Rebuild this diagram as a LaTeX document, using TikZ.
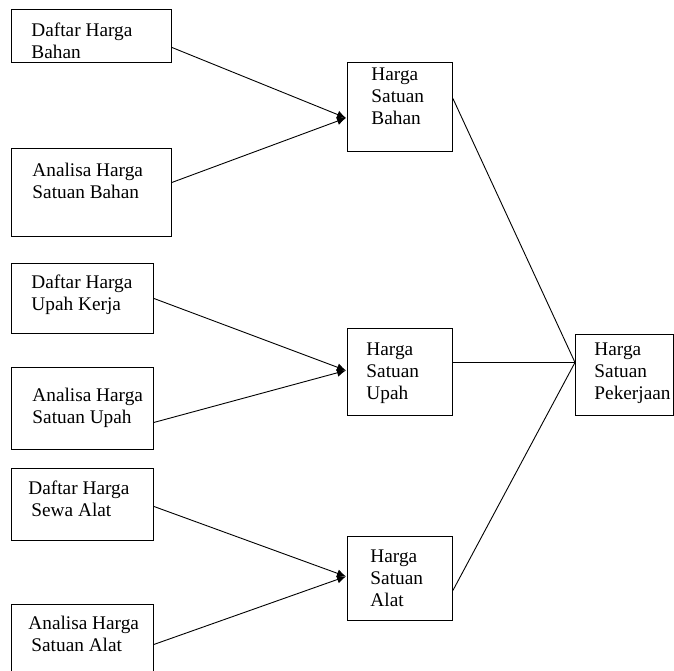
\documentclass[tikz,border=0pt]{standalone}
\usepackage{fontspec}
\setmainfont{Liberation Serif}
\usetikzlibrary{arrows.meta}
\newcommand\boxtxt[5]{\parbox[c][#2][t]{#1}{\vspace*{#4}\raggedright\leftskip=#3\relax\leavevmode\strut #5}}
\tikzset{
  bx/.style={draw, line width=0.9pt, inner sep=0pt, anchor=north west,
    font=\fontsize{19.3}{22}\selectfont},
  conn/.style={line width=0.9pt},
  arr/.style={line width=0.9pt, -{Latex[length=9pt,width=8pt]}}
}
\begin{document}
\begin{tikzpicture}[x=1pt,y=1pt]
\useasboundingbox (0,0) rectangle (674,-670);
\clip (0,0) rectangle (674,-670);
% left column
\node[bx] (b1) at (11,-9) {\boxtxt{160pt}{53pt}{20pt}{11.6pt}{Daftar Harga\\Bahan}};
\node[bx] (b2) at (11,-148) {\boxtxt{160pt}{88pt}{21pt}{12.6pt}{Analisa Harga\\Satuan Bahan}};
\node[bx] (b3) at (11,-263) {\boxtxt{142pt}{70pt}{20pt}{9.6pt}{Daftar Harga\\Upah Kerja}};
\node[bx] (b4) at (11,-367) {\boxtxt{142pt}{82pt}{21pt}{18.6pt}{Analisa Harga\\Satuan Upah}};
\node[bx] (b5) at (11,-468) {\boxtxt{142pt}{72pt}{17pt}{10.6pt}{Daftar Harga\\\hspace*{3pt}Sewa Alat}};
\node[bx] (b6) at (11,-604) {\boxtxt{142pt}{80pt}{17pt}{9.6pt}{Analisa Harga\\\hspace*{3pt}Satuan Alat}};
% middle column
\node[bx] (hsb) at (347,-62) {\boxtxt{105pt}{89pt}{24pt}{2.6pt}{Harga\\Satuan\\Bahan}};
\node[bx] (hsu) at (347,-328) {\boxtxt{105pt}{87pt}{19pt}{11.6pt}{Harga\\Satuan\\Upah}};
\node[bx] (hsa) at (347,-536) {\boxtxt{105pt}{84pt}{23pt}{10.6pt}{Harga\\Satuan\\Alat}};
% right
\node[bx] (hsp) at (575,-334) {\boxtxt{98pt}{81pt}{19pt}{5.6pt}{Harga\\Satuan\\Pekerjaan}};
% targets
\coordinate (tb) at ([xshift=-1pt,yshift=-11pt]hsb.west);
\coordinate (tu) at ([xshift=-1pt,yshift=1.5pt]hsu.west);
\coordinate (ta) at ([xshift=-1pt,yshift=2pt]hsa.west);
\coordinate (tp) at ([yshift=12.5pt]hsp.west);
% arrows
\draw[arr] ([yshift=-11.5pt]b1.east) -- (tb);
\draw[arr] ([yshift=10pt]b2.east) -- (tb);
\draw[arr] (b3.east) -- (tu);
\draw[arr] ([yshift=-14pt]b4.east) -- (tu);
\draw[arr] ([yshift=-2pt]b5.east) -- (ta);
\draw[arr] (b6.east) -- (ta);
% to result
\draw[conn] ([yshift=8.5pt]hsb.east) -- (tp);
\draw[conn] ([yshift=9.5pt]hsu.east) -- (tp);
\draw[conn] ([yshift=-12pt]hsa.east) -- (tp);
\end{tikzpicture}
\end{document}
